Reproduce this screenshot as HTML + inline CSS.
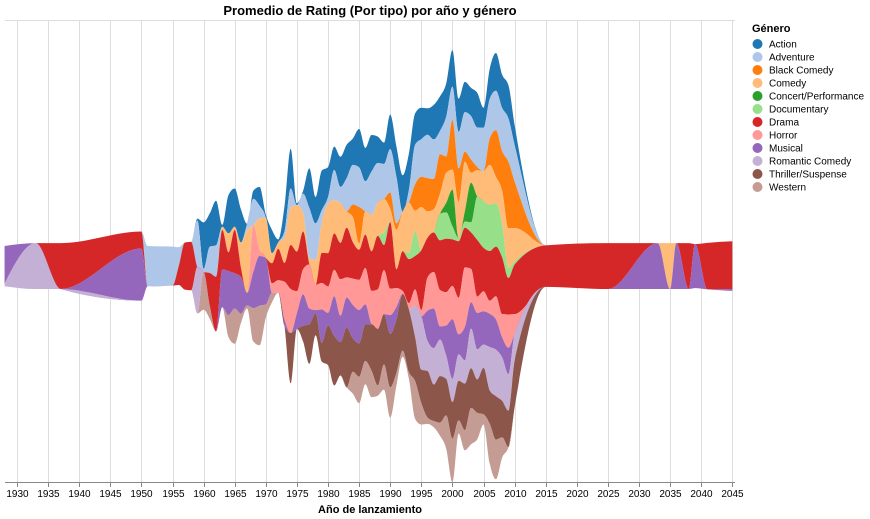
<!DOCTYPE html>
<html><head><meta charset="utf-8">
<style>
html,body{margin:0;padding:0;background:#fff;}
svg{display:block;font-family:"Liberation Sans",Arial,sans-serif;}
</style></head>
<body>
<svg id="chart" width="870" height="519" viewBox="0 0 870 519">
  <g id="grid"></g>
  <g id="areas"></g>
  <g id="xaxis"></g>
  <text x="370" y="15" text-anchor="middle" font-size="13" font-weight="bold" fill="#000">Promedio de Rating (Por tipo) por año y género</text>
  <text x="370" y="513" text-anchor="middle" font-size="11" font-weight="bold" fill="#000">Año de lanzamiento</text>
  <g id="legend">
    <text x="752" y="32" font-size="11" font-weight="bold" fill="#000">Género</text>
  </g>
</svg>
<script>
const years = [1928,1933,1937,1950,1951,1955,1956,1957,
1958,1959,1960,1961,1962,1963,1964,1965,1966,1967,1968,1969,
1970,1971,1972,1973,1974,1975,1976,1977,1978,1979,
1980,1981,1982,1983,1984,1985,1986,1987,1988,1989,
1990,1991,1992,1993,1994,1995,1996,1997,1998,1999,
2000,2001,2002,2003,2004,2005,2006,2007,2008,2009,2010,
2015,2025,2033,2035,2036,2038,2039,2041,2045];
const genres = ["Action","Adventure","Black Comedy","Comedy","Concert/Performance","Documentary","Drama","Horror","Musical","Romantic Comedy","Thriller/Suspense","Western"];
const colors = ["#1f77b4","#aec7e8","#ff7f0e","#ffbb78","#2ca02c","#98df8a","#d62728","#ff9896","#9467bd","#c5b0d5","#8c564b","#c49c94"];
// values per genre aligned to years
const action = [0,0,0,0,0,0,0,0,
0,0.3,7.4,5.3,7.1,0.3,6.1,6.1,5.3,0,1.3,3,
0.5,3.7,0.5,4,6.3,0.3,0.5,6.3,4.2,6.3,
4.8,3.7,4.8,5.3,4.2,6.1,5.3,5.8,4.2,3.4,
5.5,4.8,5.8,5.8,5,5,4.2,5.5,5.5,5.3,
5.8,5.3,4.8,4.5,5.5,3.2,4.8,6,5.3,5.3,3.2,
0,0,0,0,0,0,0,0,0];
const adventure = [0,0,0,0,6.4,6.2,3,0,
0,7.4,0.5,4.2,5,0,0,0,0,1,4.2,2,
0,0,0,1,3,0,3,8,5.8,2,
1,4.8,2.6,5.3,6.3,6.3,4.8,6.9,6.3,5.6,
6.9,7.4,0,2,6.3,6,6.9,6.3,3.7,6.3,
5.3,5.8,6.3,6.9,6.3,6.9,6.3,6.3,6.9,6.9,5.8,
0,0,0,0,0,0,0,0,0];
const blackComedy = [0,0,0,0,0,0,0,0,
0,0,0,0,0,0,0,0,0,0,0,0,
0,0,0,0,0,0,0,0,0,0,
0,0,0,0,2,5.8,0,0,0,0,
2.6,1,0,0,4.2,4.8,5.3,4.8,6.3,2.6,
7.9,5.3,1.6,2.1,0.5,0,4.2,7.4,6.3,10.6,7.4,
0,0,0,0,0,0,0,0,0];
const comedy = [0,0,0,0,0,0,0,0,
0,0,0,0,0,0.5,3,0.5,4,10,0,5,
6.4,1.6,1,4,6,7.4,3,1,4,4.8,
7.9,5.3,6.3,2.6,4,1,3.7,5.8,5.3,5.3,
2.1,6.3,6.3,8,3.2,6.9,4.2,3.7,3.2,4.8,
3.2,5.8,7.9,1.6,4.2,4.8,6.3,4.2,5.3,6.3,5.3,
0,0,0,7.3,0,0,0,0,0];
const concert = [0,0,0,0,0,0,0,0,
0,0,0,0,0,0,0,0,0,0,0,0,
0,0,0,0,0,0,0,0,0,0,
0,0,0,0,0,0,0,0,0,0,
0,0,0,0,0,0,0,0,0,1.5,
5.8,0,1.6,6.3,0,0,0,0,0,0,0,
0,0,0,0,0,0,0,0,0];
const documentary = [0,0,0,0,0,0,0,0,
0,0,0,0,0,0,0,0,0,0,0,0,
0,0,0,0,0,0,0,0,0,0,
0,0,0,0,0,0,0,0,0,2,
0,0,0,1,4,0,0,0,4.2,4.2,
2.1,0.5,1,1.6,6.9,7.4,7.4,6.9,5.3,1.6,0.5,
0,0,0,0,0,0,0,0,0];
const drama = [0,0,7.3,2.7,0,0,3,7.5,
7.7,0,0,5.3,8.7,6.3,3,6.9,1.5,0,0,0,
0,3.2,5,3,7,6.3,6,0,0,4.8,
5.3,5.8,5.8,7.9,5.8,4.8,5.3,6.3,8.5,4,
10.6,3,6.3,7,5.3,9.5,6.3,6.3,7.9,8.5,
7.4,9,6.3,5.8,9,6.9,7.9,7.9,9,5.8,7.9,
6.6,7.3,0,0,0,7.3,0,7.4,7.6];
const horror = [0,0,0,0,0,0,0,0,
0,0,0,0,0,0,0,0,0,0,7.4,1,
0,1.5,2,6,7,3.5,4,7,4,4.2,
4.2,4.2,5.8,3.2,4.2,4.8,5.8,5.3,6.3,7,
4.2,3,0.5,1,2.6,1,5.3,5.8,5.8,5.3,
5.3,5.8,9.5,5.3,2.6,3.2,2.1,3.7,3.7,5.3,3.2,
0,0,0,0,0,0,0,0,0];
const musical = [6,0,0,8.3,0,0,0,0,
0,0,0,0,0,6,7,5.6,5.8,2,5.8,7.9,
7.4,0,0,1,0,2.5,5,2.5,0.5,5.3,
2,6.3,4.2,4.8,5.3,5.3,3.2,0,0,0,
3,2,0,0,0,0,4.8,6.3,2.1,4.8,
9.5,3.2,5.3,4.2,5.8,5.3,5.3,4.8,3.2,4.2,0,
0,0,7.3,0,7.3,0,7,0,0.3];
const romCom = [0.4,7.3,0,0,0,0,0,0,
0,7.4,0,0,0,0,0,0,0,0,0,0,
0,0,0,0,0,0,0,0,0,0,
0,0,0,0,0,0,0,0,0,0,
0,0,0,0,5,8.5,4.8,5.8,5.8,3.7,
3.7,4.2,3.7,6.3,4.8,3.7,6.9,7.4,6.9,5.8,4.2,
0,0,0,0,0,0,0,0,0];
const thriller = [0,0,0,0,0,0,0,0,
0,0,0,0,0,0,0,0,0,0,0,0,
0,0,0,0,8,0,2.5,6.3,3.5,3,
6.3,7.9,5.3,9.5,5.3,5.3,5.8,7.4,9,8,
8.5,8.5,9,10,7,5.3,7.4,5.8,7.4,5.8,
5.8,6.3,7.4,6.3,5.3,7.4,5.3,6.9,5.8,5.8,7.4,
0,0,0,0,0,0,0,0,0];
const western = [0,0,0,0,0,0,0,0,
0,0,6,2,0,0,3.5,5.6,1.5,0.5,5.3,6.3,
2.1,1.5,0,0,0,0,0,0,0,0,
0,0,0,0,3.5,4.2,3.7,4.2,1.6,4,
4.8,2,1,1,6,3.4,1,1,2.1,5.3,
6.9,2.1,3.2,5.8,4.2,1.6,6.3,6.3,3.2,0,0,
0,0,0,0,0,0,0,0,0];
const series = [action,adventure,blackComedy,comedy,concert,documentary,drama,horror,musical,romCom,thriller,western];
const xTicks = [1930,1935,1940,1945,1950,1955,1960,1965,1970,1975,1980,1985,1990,1995,2000,2005,2010,2015,2020,2025,2030,2035,2040,2045];

const NS = "http://www.w3.org/2000/svg";
const X0 = 5, X1 = 735, Y0 = 482, Y1 = 20;
const xDom = [1928.07, 2045.43];
const yDomMax = 73.5;
function xS(v){ return X0 + (v - xDom[0]) / (xDom[1] - xDom[0]) * (X1 - X0); }
function yS(v){ return Y0 - v / yDomMax * (Y0 - Y1); }

// stacking (center offset)
const totals = years.map((y,i)=>series.reduce((s,a)=>s+a[i],0));
const maxT = Math.max(...totals);
const tops = [], bots = [];
years.forEach((y,i)=>{
  let cur = maxT - (maxT - totals[i]) / 2; // top in data units
  series.forEach((a,g)=>{
    if(!tops[g]){tops[g]=[];bots[g]=[];}
    tops[g][i] = cur;
    cur -= a[i];
    bots[g][i] = cur;
  });
});

function tangents(px,py){
  const n=px.length, t=new Array(n).fill(0);
  const sgn=v=>v<0?-1:1;
  for(let i=1;i<n-1;i++){
    const h0=px[i]-px[i-1], h1=px[i+1]-px[i];
    const s0=(py[i]-py[i-1])/h0, s1=(py[i+1]-py[i])/h1;
    const p=(s0*h1+s1*h0)/(h0+h1);
    t[i]=(sgn(s0)+sgn(s1))*Math.min(Math.abs(s0),Math.abs(s1),0.5*Math.abs(p))||0;
  }
  if(n>1){
    t[0]=(3*(py[1]-py[0])/(px[1]-px[0])-t[1])/2;
    t[n-1]=(3*(py[n-1]-py[n-2])/(px[n-1]-px[n-2])-t[n-2])/2;
  }
  return t;
}
function segs(px,py){
  const t=tangents(px,py), out=[];
  for(let i=0;i<px.length-1;i++){
    const dx=(px[i+1]-px[i])/3;
    out.push([px[i],py[i],px[i]+dx,py[i]+dx*t[i],px[i+1]-dx,py[i+1]-dx*t[i+1],px[i+1],py[i+1]]);
  }
  return out;
}
const f=v=>v.toFixed(2);
const areasG=document.getElementById('areas');
const px = years.map(xS);
series.forEach((a,g)=>{
  const ty = tops[g].map(yS), by = bots[g].map(yS);
  const st = segs(px,ty), sb = segs(px,by);
  let d = "M"+f(px[0])+","+f(ty[0]);
  st.forEach(s=>{ d+="C"+f(s[2])+","+f(s[3])+" "+f(s[4])+","+f(s[5])+" "+f(s[6])+","+f(s[7]); });
  d += "L"+f(px[px.length-1])+","+f(by[by.length-1]);
  for(let k=sb.length-1;k>=0;k--){ const s=sb[k]; d+="C"+f(s[4])+","+f(s[5])+" "+f(s[2])+","+f(s[3])+" "+f(s[0])+","+f(s[1]); }
  d += "Z";
  const p=document.createElementNS(NS,'path');
  p.setAttribute('d',d);
  p.setAttribute('fill',colors[g]);
  
  
  areasG.appendChild(p);
});

// grid + axis
const gridG=document.getElementById('grid'), axG=document.getElementById('xaxis');
const topLine=document.createElementNS(NS,'line');
topLine.setAttribute('x1',X0);topLine.setAttribute('x2',X1);topLine.setAttribute('y1',Y1+0.5);topLine.setAttribute('y2',Y1+0.5);
topLine.setAttribute('stroke','#ddd');


gridG.appendChild(topLine);
xTicks.forEach(t=>{
  const x=Math.round(xS(t))+0.5;
  const gl=document.createElementNS(NS,'line');
  gl.setAttribute('x1',x);gl.setAttribute('x2',x);gl.setAttribute('y1',Y1);gl.setAttribute('y2',Y0);
  gl.setAttribute('stroke','#ddd');
  
  
  gridG.appendChild(gl);
  const tk=document.createElementNS(NS,'line');
  tk.setAttribute('x1',x);tk.setAttribute('x2',x);tk.setAttribute('y1',Y0);tk.setAttribute('y2',Y0+5);
  tk.setAttribute('stroke','#888');
  
  
  axG.appendChild(tk);
  const tx=document.createElementNS(NS,'text');
  tx.setAttribute('x',x);tx.setAttribute('y',Y0+15);tx.setAttribute('text-anchor','middle');
  tx.setAttribute('font-size','10');tx.setAttribute('fill','#000');
  tx.textContent=t;
  
  
  axG.appendChild(tx);
});
const dom=document.createElementNS(NS,'line');
dom.setAttribute('x1',X0);dom.setAttribute('x2',X1);dom.setAttribute('y1',Y0+0.5);dom.setAttribute('y2',Y0+0.5);
dom.setAttribute('stroke','#888');


axG.appendChild(dom);

// legend
const lg=document.getElementById('legend');
genres.forEach((g,i)=>{
  const y=44+i*13;
  const grp=document.createElementNS(NS,'g');
  
  
  const c=document.createElementNS(NS,'circle');
  c.setAttribute('cx',757.5);c.setAttribute('cy',y);c.setAttribute('r',5);c.setAttribute('fill',colors[i]);
  
  
  const t=document.createElementNS(NS,'text');
  t.setAttribute('x',769);t.setAttribute('y',y+3.5);t.setAttribute('font-size','10');t.setAttribute('fill','#000');
  t.textContent=g;
  
  
  grp.appendChild(c);grp.appendChild(t);lg.appendChild(grp);
});
</script>
</body></html>
